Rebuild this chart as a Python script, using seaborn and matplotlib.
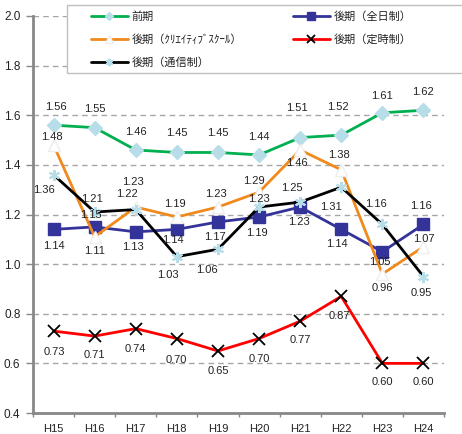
import pandas as pd
import numpy as np
import matplotlib
matplotlib.use('Agg')
import matplotlib.pyplot as plt
from matplotlib.patches import Rectangle
from matplotlib.ticker import FixedLocator, MultipleLocator
import seaborn as sns

# data
years = ['H15', 'H16', 'H17', 'H18', 'H19', 'H20', 'H21', 'H22', 'H23', 'H24']
zenki = [1.56, 1.55, 1.46, 1.45, 1.45, 1.44, 1.51, 1.52, 1.61, 1.62]
kouki_zennichi = [1.14, 1.15, 1.13, 1.14, 1.17, 1.19, 1.23, 1.14, 1.05, 1.16]
kouki_creative = [1.48, 1.11, 1.23, 1.19, 1.23, 1.29, 1.46, 1.38, 0.96, 1.07]
kouki_teiji = [0.73, 0.71, 0.74, 0.70, 0.65, 0.70, 0.77, 0.87, 0.60, 0.60]
kouki_tsushin = [1.36, 1.21, 1.22, 1.03, 1.06, 1.23, 1.25, 1.31, 1.16, 0.95]

names = ['前期', '後期（全日制）', '後期（ｸﾘｴｲﾃｨﾌﾞｽｸｰﾙ）', '後期（定時制）', '後期（通信制）']
values = [zenki, kouki_zennichi, kouki_creative, kouki_teiji, kouki_tsushin]

df = pd.concat([pd.DataFrame({'year': years, 'value': v, 'series': n})
                for n, v in zip(names, values)], ignore_index=True)

# styles: line colour, marker, marker face, marker edge, marker size
styles = {
    '前期': ('#00B050', 'D', '#B7DEE8', '#B7DEE8', 7),
    '後期（全日制）': ('#333399', 's', '#333399', '#333399', 8),
    '後期（ｸﾘｴｲﾃｨﾌﾞｽｸｰﾙ）': ('#F08A1C', '^', 'white', '#EEEEEE', 8),
    '後期（定時制）': ('#FF0000', 'x', 'black', 'black', 8),
    '後期（通信制）': ('black', (6, 2, 0), '#B7DEE8', '#B7DEE8', 8),
}

# label offsets in pixels (dx, dy downward)
offsets = {
    '前期': [(2, -18), (0, -19), (0, -18), (0, -19), (0, -19), (0, -18), (-3, -30), (-3, -28), (0, -17), (0, -18)],
    '後期（全日制）': [(0, 17), (-4, -12), (-3, 15), (-4, 11), (-3, 15), (-2, 16), (-1, 15), (-4, 15), (-3, 10), (-2, -18)],
    '後期（ｸﾘｴｲﾃｨﾌﾞｽｸｰﾙ）': [(-2, -8), (0, 14), (-3, -25), (-2, -13), (-2, -13), (-5, -11), (-3, 13), (-2, -15), (0, 14), (0, -8)],
    '後期（定時制）': [(1, 21), (0, 19), (0, 20), (-1, 21), (0, 20), (0, 20), (0, 19), (-2, 20), (0, 19), (0, 19)],
    '後期（通信制）': [(-10, 15), (-3, -13), (-9, -16), (-9, 18), (-11, 21), (0, -8), (-8, -14), (-10, 20), (-6, -20), (-2, 16)],
}

sns.set_theme(style='white')
plt.rcParams['font.family'] = ['Liberation Sans', 'Noto Sans CJK JP', 'DejaVu Sans']
txt = '#222222'

fig = plt.figure(figsize=(4.62, 4.34), dpi=100)
ax = fig.add_axes([33 / 462, 21 / 434, 411 / 462, 397 / 434])

for n in names:
    col, mk, mfc, mec, ms = styles[n]
    sub = df[df.series == n]
    mew = 1.3 if mk in ('x',) else 1.0
    if isinstance(mk, tuple):
        mew = 1.5
    sns.lineplot(data=sub, x='year', y='value', ax=ax, color=col, lw=2.0,
                 marker=mk, markerfacecolor=mfc, markeredgecolor=mec,
                 markersize=ms, markeredgewidth=mew, sort=False, label=n)
    for i, (yr, v) in enumerate(zip(sub.year, sub.value)):
        dx, dy = offsets[n][i]
        ax.annotate(f'{v:.2f}', (i, v), xytext=(dx, -dy), textcoords='offset pixels',
                    ha='center', va='center', fontsize=8, color=txt)

ax.set_xlim(-0.5, 9.5)
ax.set_ylim(0.4, 2.0)
ax.yaxis.set_major_locator(MultipleLocator(0.2))
ax.yaxis.set_major_formatter(matplotlib.ticker.FormatStrFormatter('%.1f'))
ax.set_xlabel('')
ax.set_ylabel('')
ax.set_axisbelow(True)
ax.yaxis.grid(True, linestyle=(0, (4, 3)), color='#A6A6A6', lw=1)
ax.xaxis.grid(False)

for s in ['top', 'right']:
    ax.spines[s].set_visible(False)
for s in ['left', 'bottom']:
    ax.spines[s].set_color('#888888')
    ax.spines[s].set_linewidth(2)

ax.xaxis.set_minor_locator(FixedLocator(np.arange(-0.5, 10, 1)))
ax.tick_params(axis='x', which='major', length=0, pad=8, labelsize=8, labelcolor=txt)
ax.tick_params(axis='x', which='minor', length=3, width=1, color='#888888', direction='out')
ax.tick_params(axis='y', which='major', length=5, width=1, color='#888888', direction='out',
               pad=4, labelsize=8.5, labelcolor=txt)
ax.tick_params(left=True, bottom=True)
ax.tick_params(axis='x', which='minor', bottom=True)

# legend: column-wise order to match the reference layout
handles, labels = ax.get_legend_handles_labels()
order = [0, 2, 4, 1, 3]
ax.get_legend().remove()
fig.legend([handles[i] for i in order], [labels[i] for i in order],
           loc='upper left', bbox_to_anchor=(91 / 462, 1 - 11 / 434), ncol=2,
           frameon=False, fontsize=8, handlelength=3.3, handletextpad=0.35,
           columnspacing=4.6, labelspacing=1.1, borderpad=0, borderaxespad=0,
           numpoints=1, markerscale=0.65, labelcolor=txt)
fig.patches.append(Rectangle((67 / 462, 1 - 73 / 434), 1.0, 68 / 434, transform=fig.transFigure,
                             fill=True, facecolor='white', edgecolor='#BFBFBF', lw=1, zorder=0))

fig.savefig('out.png', dpi=100)
